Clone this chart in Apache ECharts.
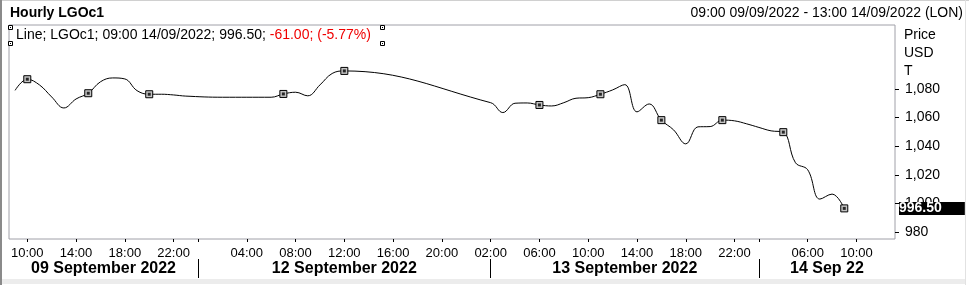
<!DOCTYPE html>
<html>
<head>
<meta charset="utf-8">
<script src="https://cdn.jsdelivr.net/npm/echarts@6/dist/echarts.min.js"></script>
<style>
html,body{margin:0;padding:0;background:#fff;}
#chart{width:969px;height:285px;}
</style>
</head>
<body>
<div id="chart"></div>
<script>
// ---- Data ----
// Hourly slots on the (non-continuous) time axis
const slotLabels = [
  "09/09 09:00","09/09 10:00","09/09 11:00","09/09 12:00","09/09 13:00","09/09 14:00","09/09 15:00",
  "09/09 16:00","09/09 17:00","09/09 18:00","09/09 19:00","09/09 20:00","09/09 21:00","09/09 22:00",
  "11/09 23:00","12/09 00:00",
  "12/09 01:00","12/09 02:00","12/09 03:00","12/09 04:00","12/09 05:00","12/09 06:00","12/09 07:00",
  "12/09 08:00","12/09 09:00","12/09 10:00","12/09 11:00","12/09 12:00","12/09 13:00","12/09 14:00",
  "12/09 15:00","12/09 16:00","12/09 17:00","12/09 18:00","12/09 19:00","12/09 20:00","12/09 21:00","12/09 22:00",
  "13/09 01:00","13/09 02:00","13/09 03:00","13/09 04:00","13/09 05:00","13/09 06:00","13/09 07:00",
  "13/09 08:00","13/09 09:00","13/09 10:00","13/09 11:00","13/09 12:00","13/09 13:00","13/09 14:00",
  "13/09 15:00","13/09 16:00","13/09 17:00","13/09 18:00","13/09 19:00","13/09 20:00","13/09 21:00","13/09 22:00",
  "14/09 01:00","14/09 02:00","14/09 03:00","14/09 04:00","14/09 05:00","14/09 06:00","14/09 07:00",
  "14/09 08:00","14/09 09:00","14/09 10:00","14/09 11:00","14/09 12:00","14/09 13:00"
];
// LGOc1 price per slot (null = no trade)
const prices = [
  1079, 1086.8, 1082.8, 1074.4, 1066.7, 1073, 1077, 1085, 1087.7, 1087, 1078.8, 1076.3, 1076.3, 1075.8,
  1075, null,
  null, 1074.2, null, null, null, 1074.2, 1076.5, 1077.7, 1075.2, 1082.8, 1090.8, 1092.6,
  null, null, null, null, null, null, null, null, null, null,
  null, 1070.4, 1063.5, 1070, 1070.2, 1068.8, 1068.1, 1070.4, 1073.5, 1073.9, 1076.3, 1079.3, 1083, 1064,
  1069.5, 1058.2, 1051.4, 1041.6, 1053.5, 1053.7, 1058.2, 1057.7,
  1055.6, 1053.1, 1050.7, 1049.8, 1028.4, 1023.5, 1003, 1006.5, 996.5, null, null, null, null
];
// Slots carrying a square marker
const markerSlots = [1, 6, 11, 22, 27, 43, 48, 53, 58, 63, 68];
// Slots with an hour label
const hourLabelSlots = [1, 5, 9, 13, 19, 23, 27, 31, 35, 39, 43, 47, 51, 55, 59, 65, 69];
// Day separators (slot indices) and day names
const dayBoundarySlots = [15, 39, 61];
const dayNames = ["09 September 2022", "12 September 2022", "13 September 2022", "14 Sep 22"];
// Price axis tick labels
const priceTicks = [980, 1000, 1020, 1040, 1060, 1080];
const lastValue = 996.50;
const legendMain = "Line; LGOc1; 09:00 14/09/2022; 996.50; ";
const legendChange = "-61.00; (-5.77%)";
const titleText = "Hourly LGOc1";
const rangeText = "09:00 09/09/2022 - 13:00 14/09/2022 (LON)";
const unitText = "Price\nUSD\nT";

// ---- Build ----
const X_MIN = -0.5, X_MAX = 72.16;
const Y_MIN = 975.1, Y_MAX = 1124.7;
const FONT = "'Liberation Sans', Arial, sans-serif";

const lineData = [];
prices.forEach((v, i) => {
  if (v == null) return;
  const isM = markerSlots.indexOf(i) >= 0;
  lineData.push({ value: [i, v], symbol: isM ? 'rect' : 'none' });
});
const dotData = markerSlots.map(i => [i, prices[i]]);

const edges = [X_MIN].concat(dayBoundarySlots, [X_MAX]);
const dayCenters = dayNames.map((_, k) => (edges[k] + edges[k + 1]) / 2);

function fmtThousands(v) {
  return String(v).replace(/\B(?=(\d{3})+(?!\d))/g, ',');
}

const chart = echarts.init(document.getElementById('chart'), null, { renderer: 'canvas' });
const option = {
  animation: false,
  backgroundColor: '#fff',
  textStyle: { fontFamily: FONT },
  title: [
    { text: titleText, left: 10, top: 6, padding: 0,
      textStyle: { fontFamily: FONT, fontSize: 14, fontWeight: 'bold', color: '#000' } },
    { text: rangeText, right: 6, top: 6, padding: 0,
      textStyle: { fontFamily: FONT, fontSize: 14, fontWeight: 'normal', color: '#000' } }
  ],
  grid: { left: 9, top: 25, width: 886, height: 214, show: true, borderColor: '#a0a0a8', borderWidth: 1, backgroundColor: '#fff' },
  xAxis: [
    {
      type: 'value', min: X_MIN, max: X_MAX, position: 'bottom',
      axisLine: { show: false, onZero: false }, splitLine: { show: false },
      axisTick: { show: true, length: 3, customValues: hourLabelSlots.concat([15, 61]), lineStyle: { color: '#000' } },
      axisLabel: { show: true, margin: 8, customValues: hourLabelSlots, fontFamily: FONT, fontSize: 13, color: '#000',
        formatter: v => slotLabels[Math.round(v)].split(' ')[1] }
    },
    {
      type: 'value', min: X_MIN, max: X_MAX, position: 'bottom', offset: 20,
      axisLine: { show: false, onZero: false }, splitLine: { show: false },
      axisTick: { show: true, length: 19, customValues: dayBoundarySlots, lineStyle: { color: '#000' } },
      axisLabel: { show: true, margin: 2, customValues: dayCenters, fontFamily: FONT, fontSize: 16, fontWeight: 'bold', color: '#000',
        formatter: v => { let k = 0; while (k < dayBoundarySlots.length && v > dayBoundarySlots[k]) k++; return dayNames[k]; } }
    }
  ],
  yAxis: [
    {
      type: 'value', min: Y_MIN, max: Y_MAX, position: 'right',
      axisLine: { show: false, onZero: false }, splitLine: { show: false },
      axisTick: { show: true, length: 4, customValues: priceTicks, lineStyle: { color: '#000' } },
      axisLabel: { show: true, margin: 10, customValues: priceTicks, fontFamily: FONT, fontSize: 14, color: '#000',
        formatter: v => fmtThousands(v) },
      name: unitText, nameLocation: 'end', nameGap: -1,
      nameTextStyle: { fontFamily: FONT, fontSize: 14, color: '#000', align: 'left', verticalAlign: 'top', lineHeight: 18, padding: [0, 0, 0, 9] }
    },
    {
      type: 'value', min: Y_MIN, max: Y_MAX, position: 'right', zlevel: 1, z: 5,
      axisLine: { show: false, onZero: false }, splitLine: { show: false },
      axisTick: { show: false },
      axisLabel: { show: true, margin: 4, customValues: [lastValue], fontFamily: FONT, fontSize: 14, fontWeight: 'bold',
        color: '#fff', backgroundColor: '#000', padding: [0, 23, 0, 0], lineHeight: 13,
        formatter: v => v.toFixed(2) }
    }
  ],
  series: [
    {
      type: 'line', data: lineData, smooth: 0.4, showSymbol: true, symbolSize: 7,
      lineStyle: { color: '#000', width: 1 },
      itemStyle: { color: '#c4c4c4', borderColor: '#000', borderWidth: 1 },
      emphasis: { disabled: true },
      z: 3
    },
    {
      type: 'scatter', data: dotData, symbol: 'rect', symbolSize: 3,
      itemStyle: { color: '#000' }, silent: true, z: 4
    }
  ],
  graphic: [
    { type: 'rect', shape: { x: 0, y: 0, width: 969, height: 1 }, style: { fill: '#d0d0d0' }, silent: true },
    { type: 'rect', shape: { x: 0, y: 0, width: 2, height: 285 }, style: { fill: '#8a8a8a' }, silent: true },
    { type: 'rect', shape: { x: 2, y: 279, width: 963, height: 5 }, style: { fill: '#ececec' }, silent: true },
    { type: 'rect', shape: { x: 965, y: 0, width: 1, height: 285 }, style: { fill: '#e2e2e2' }, silent: true },
    { type: 'text', x: 16, y: 35, silent: true,
      style: { text: '{a|' + legendMain + '}{b|' + legendChange + '}', verticalAlign: 'middle',
        rich: { a: { fontFamily: FONT, fontSize: 14, fill: '#000' }, b: { fontFamily: FONT, fontSize: 14, fill: '#f00000' } } } },
    { type: 'rect', shape: { x: 8.5, y: 25.5, width: 4, height: 4 }, style: { fill: '#fff', stroke: '#000', lineWidth: 1 }, silent: true, z: 10 },
    { type: 'rect', shape: { x: 8.5, y: 41.5, width: 4, height: 4 }, style: { fill: '#fff', stroke: '#000', lineWidth: 1 }, silent: true, z: 10 },
    { type: 'rect', shape: { x: 380.5, y: 25.5, width: 4, height: 4 }, style: { fill: '#fff', stroke: '#000', lineWidth: 1 }, silent: true, z: 10 },
    { type: 'rect', shape: { x: 380.5, y: 41.5, width: 4, height: 4 }, style: { fill: '#fff', stroke: '#000', lineWidth: 1 }, silent: true, z: 10 },
    { type: 'rect', shape: { x: 10, y: 27, width: 1, height: 1 }, style: { fill: '#000' }, silent: true, z: 11 },
    { type: 'rect', shape: { x: 10, y: 43, width: 1, height: 1 }, style: { fill: '#000' }, silent: true, z: 11 },
    { type: 'rect', shape: { x: 382, y: 27, width: 1, height: 1 }, style: { fill: '#000' }, silent: true, z: 11 },
    { type: 'rect', shape: { x: 382, y: 43, width: 1, height: 1 }, style: { fill: '#000' }, silent: true, z: 11 }
  ]
};
chart.setOption(option);
</script>
</body>
</html>
